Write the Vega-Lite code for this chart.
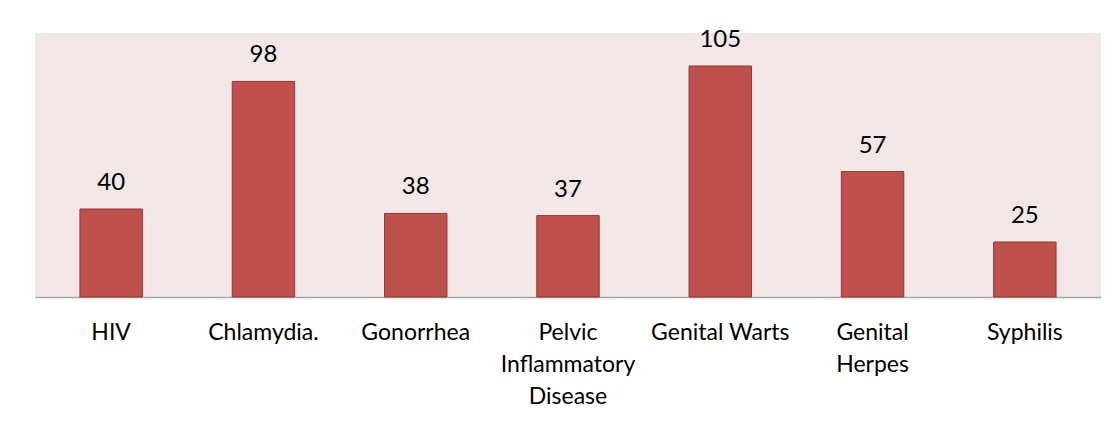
{
  "$schema": "https://vega.github.io/schema/vega-lite/v6.json",
  "autosize": "none",
  "width": 1066,
  "height": 264,
  "padding": {"left": 35, "top": 33, "right": 18, "bottom": 131},
  "background": "#ffffff",
  "config": {
    "view": {"fill": "#F2E7E6", "stroke": null},
    "font": "Lato"
  },
  "data": {
    "values": [
      {"disease": "HIV", "count": 40},
      {"disease": "Chlamydia.", "count": 98},
      {"disease": "Gonorrhea", "count": 38},
      {"disease": "Pelvic Inflammatory Disease", "count": 37},
      {"disease": "Genital Warts", "count": 105},
      {"disease": "Genital Herpes", "count": 57},
      {"disease": "Syphilis", "count": 25}
    ]
  },
  "encoding": {
    "x": {
      "field": "disease",
      "type": "nominal",
      "sort": null,
      "scale": {"paddingInner": 0.59, "paddingOuter": 0.295},
      "axis": {
        "title": null,
        "labelAngle": 0,
        "ticks": false,
        "domainColor": "#A6A6A6",
        "domainWidth": 1.5,
        "labelFont": "Lato",
        "labelFontSize": 23,
        "labelColor": "#000000",
        "labelPadding": 35,
        "labelLineHeight": 32,
        "labelBaseline": "middle",
        "labelExpr": "datum.value == 'Pelvic Inflammatory Disease' ? ['Pelvic', 'Inflammatory', 'Disease'] : datum.value == 'Genital Herpes' ? ['Genital', 'Herpes'] : datum.label"
      }
    },
    "y": {
      "field": "count",
      "type": "quantitative",
      "scale": {"domain": [0, 120]},
      "axis": null
    }
  },
  "layer": [
    {
      "mark": {"type": "bar", "fill": "#C0504D", "stroke": "#8E3B39", "strokeWidth": 1}
    },
    {
      "mark": {"type": "text", "baseline": "bottom", "dy": -14, "font": "Lato", "fontSize": 24, "color": "#000000"},
      "encoding": {"text": {"field": "count", "type": "quantitative"}}
    }
  ]
}
